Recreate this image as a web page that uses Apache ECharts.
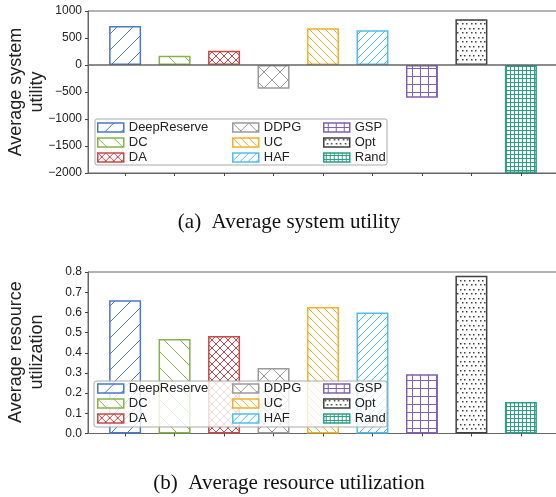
<!DOCTYPE html>
<html><head><meta charset="utf-8">
<script src="https://cdn.jsdelivr.net/npm/echarts@6/dist/echarts.min.js"></script>
<style>html,body{margin:0;padding:0;background:#fff}#c{width:556px;height:497px}</style>
</head><body><div id="c"></div>
<script>
// ---- data ----
const methods = ['DeepReserve','DC','DA','DDPG','UC','HAF','GSP','Opt','Rand'];
const positions = [1,2,3,4,5,6,7,8,9];
const utility = [722, 173, 265, -438, 679, 642, -605, 846, -2000];
const utilization = [0.660, 0.468, 0.483, 0.325, 0.627, 0.600, 0.293, 0.782, 0.156];
const colors = ['#4878c8','#86b24a','#c84848','#9a9a9a','#f0b02a','#4dbfee','#8060b0','#404040','#2aa088'];
const hatches = ['/', '\\', 'xx', 'x', '\\\\', '//', '+', '..', '++'];
const captions = ['(a)  Average system utility', '(b)  Average resource utilization'];
const yNames = ['Average system\nutility', 'Average resource\nutilization'];

// ---- patterns ----
function makePattern(h, color) {
  const spec = {'/':['/',16], '\\':['\\',16], 'xx':['x',8], 'x':['x',16], '\\\\':['\\',8], '//':['/',8], '+':['+',8], '..':['.',9], '++':['+',4]}[h];
  const kind = spec[0], s = spec[1];
  const c = document.createElement('canvas');
  c.width = s; c.height = s;
  const ctx = c.getContext('2d');
  ctx.fillStyle = '#ffffff'; ctx.fillRect(0,0,s,s);
  ctx.strokeStyle = color; ctx.fillStyle = color; ctx.lineWidth = 1;
  ctx.beginPath();
  if (kind === '/' || kind === 'x') {
    for (const o of [-s,0,s]) { ctx.moveTo(o, s); ctx.lineTo(o+s, 0); }
  }
  if (kind === '\\' || kind === 'x') {
    for (const o of [-s,0,s]) { ctx.moveTo(o, 0); ctx.lineTo(o+s, s); }
  }
  if (kind === '+') {
    const m = Math.floor(s/2) + 0.5;
    ctx.moveTo(m, 0); ctx.lineTo(m, s);
    ctx.moveTo(0, m); ctx.lineTo(s, m);
  }
  ctx.stroke();
  if (kind === '.') {
    for (const [px, py] of [[1,1],[5,1],[3,5],[7,5]]) ctx.fillRect(px, py, 1.5, 1.5);
  }
  return {image: c, repeat: 'repeat'};
}
const patterns = methods.map((m,i) => makePattern(hatches[i], colors[i]));

const FONT = 'Liberation Sans';
const AX = '#666';
const grids = [
  {left: 88, top: 11, width: 470, height: 162, show: true, borderColor: AX, borderWidth: 1, outerBoundsMode: 'none', containLabel: false},
  {left: 88, top: 272, width: 470, height: 161.5, show: true, borderColor: AX, borderWidth: 1, outerBoundsMode: 'none', containLabel: false}
];
const xAxes = grids.map((g, gi) => ({
  type: 'value', gridIndex: gi, min: 0.25, max: 9.75,
  axisLine: {show: true, onZero: false, lineStyle: {color: AX, width: 1}},
  axisTick: {show: true, customValues: positions, length: 3, inside: false, lineStyle: {color: '#444'}},
  axisLabel: {show: false}, splitLine: {show: false}
}));
const yAxes = [
  {type: 'value', gridIndex: 0, min: -2000, max: 1000, interval: 500,
   axisLabel: {formatter: v => String(v).replace('-', '\u2212')}},
  {type: 'value', gridIndex: 1, min: 0, max: 0.8, interval: 0.1,
   axisLabel: {formatter: v => v.toFixed(1)}}
].map((a, i) => Object.assign(a, {
  axisLine: {show: true, lineStyle: {color: AX, width: 1}},
  axisTick: {show: true, length: 3, inside: false, lineStyle: {color: '#444'}},
  axisLabel: Object.assign(a.axisLabel, {fontSize: 12, fontFamily: FONT, color: '#222', margin: 6}),
  splitLine: {show: false}
}));

const datasets = [utility, utilization];
const series = [];
datasets.forEach((vals, gi) => {
  methods.forEach((m, i) => {
    const s = {
      type: 'bar', name: m, xAxisIndex: gi, yAxisIndex: gi,
      data: [[positions[i], vals[i]]], barWidth: 32, barGap: '-100%',
      itemStyle: {color: patterns[i], borderColor: colors[i], borderWidth: 1.5},
      z: 2
    };
    if (gi === 0 && i === 0) {
      s.markLine = {silent: true, symbol: 'none', label: {show: false},
        lineStyle: {color: AX, width: 1.5, type: 'solid'}, data: [{yAxis: 0}]};
    }
    series.push(s);
  });
});

const legendTops = [120, 381];
const colLefts = [97, 232, 323];
const legends = [];
legendTops.forEach(t => {
  colLefts.forEach((l, ci) => {
    legends.push({
      orient: 'vertical', left: l, top: t, padding: 0,
      itemWidth: 26, itemHeight: 9, itemGap: 0, icon: 'rect', selectedMode: false,
      data: methods.slice(ci*3, ci*3+3),
      itemStyle: {borderWidth: 1.5},
      textStyle: {fontSize: 13, fontFamily: FONT, color: '#222', lineHeight: 15},
      z: 20
    });
  });
});

const graphic = [
  {type: 'rect', z: 10, shape: {x: 95, y: 119, width: 292, height: 46, r: 2},
   style: {fill: 'rgba(255,255,255,0.8)', stroke: '#aaa', lineWidth: 1}},
  {type: 'rect', z: 10, shape: {x: 94, y: 381, width: 293, height: 46, r: 2},
   style: {fill: 'rgba(255,255,255,0.8)', stroke: '#aaa', lineWidth: 1}},
  {type: 'text', z: 10, x: 289, y: 222, style: {text: captions[0], font: '21px "Liberation Serif"', fill: '#111', textAlign: 'center', textVerticalAlign: 'middle'}},
  {type: 'text', z: 10, x: 289, y: 483, style: {text: captions[1], font: '21px "Liberation Serif"', fill: '#111', textAlign: 'center', textVerticalAlign: 'middle'}},
  {type: 'text', z: 10, x: 27, y: 92, rotation: Math.PI/2, style: {text: yNames[0], font: '18px "Liberation Sans"', lineHeight: 21, fill: '#222', textAlign: 'center', textVerticalAlign: 'middle'}},
  {type: 'text', z: 10, x: 27, y: 352, rotation: Math.PI/2, style: {text: yNames[1], font: '18px "Liberation Sans"', lineHeight: 21, fill: '#222', textAlign: 'center', textVerticalAlign: 'middle'}}
];

const chart = echarts.init(document.getElementById('c'), null, {renderer: 'canvas'});
chart.setOption({
  animation: false, backgroundColor: '#fff',
  grid: grids, xAxis: xAxes, yAxis: yAxes, series: series, legend: legends, graphic: graphic
});
</script></body></html>
